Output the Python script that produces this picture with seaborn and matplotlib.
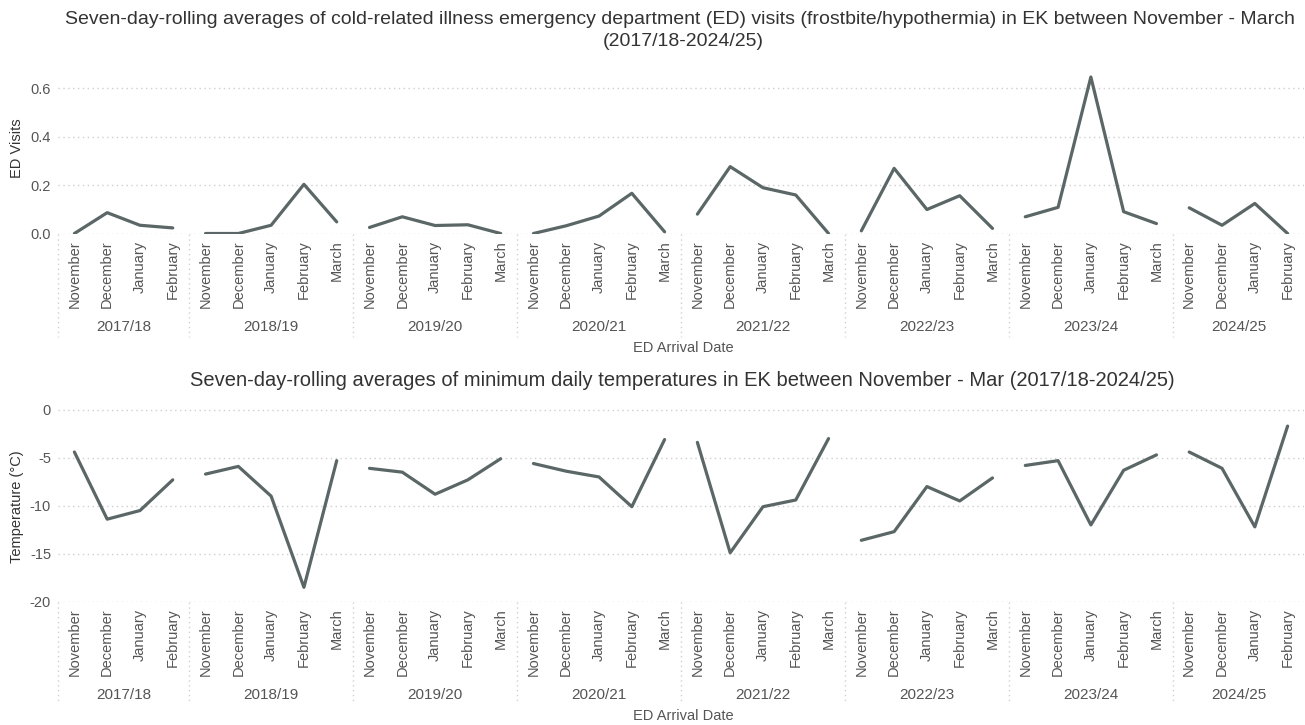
import numpy as np
import pandas as pd
import seaborn as sns
import matplotlib.pyplot as plt
from matplotlib.transforms import blended_transform_factory

# ---- data ---------------------------------------------------------------
seasons = ["2017/18", "2018/19", "2019/20", "2020/21",
           "2021/22", "2022/23", "2023/24", "2024/25"]
season_months = [
    ["November", "December", "January", "February"],
    ["November", "December", "January", "February", "March"],
    ["November", "December", "January", "February", "March"],
    ["November", "December", "January", "February", "March"],
    ["November", "December", "January", "February", "March"],
    ["November", "December", "January", "February", "March"],
    ["November", "December", "January", "February", "March"],
    ["November", "December", "January", "February"],
]

# seven-day rolling average of cold-related ED visits, per month and season
ed_visits = [
    0.000, 0.086, 0.034, 0.023,
    0.000, 0.000, 0.034, 0.203, 0.048,
    0.025, 0.069, 0.033, 0.036, 0.000,
    0.000, 0.032, 0.072, 0.166, 0.007,
    0.080, 0.276, 0.189, 0.159, 0.000,
    0.011, 0.269, 0.099, 0.156, 0.021,
    0.069, 0.108, 0.646, 0.090, 0.041,
    0.106, 0.034, 0.124, 0.000,
]

# seven-day rolling average of minimum daily temperature (°C)
min_temp = [
    -4.4, -11.4, -10.5, -7.3,
    -6.7, -5.9, -9.0, -18.5, -5.3,
    -6.1, -6.5, -8.8, -7.3, -5.1,
    -5.6, -6.4, -7.0, -10.1, -3.1,
    -3.4, -14.9, -10.1, -9.4, -3.0,
    -13.6, -12.7, -8.0, -9.5, -7.1,
    -5.8, -5.3, -12.0, -6.3, -4.7,
    -4.4, -6.1, -12.2, -1.7,
]

rows = []
pos = 0
for s, months in zip(seasons, season_months):
    for m in months:
        rows.append({"season": s, "month": m, "pos": pos})
        pos += 1
df = pd.DataFrame(rows)
df["visits"] = ed_visits
df["temp"] = min_temp
n_pos = len(df)

# ---- style --------------------------------------------------------------
sns.set_theme(style="white")
plt.rcParams["font.family"] = ["Liberation Sans", "DejaVu Sans"]

LINE = "#5b6667"
TXT = "#555555"
TITLE = "#333333"
GRID = "#cfcfcf"

W, H = 1305, 725
fig = plt.figure(figsize=(W / 100, H / 100), dpi=100)
fig.patch.set_facecolor("white")


def px_axes(left, top, right, bottom):
    return fig.add_axes([left / W, 1 - bottom / H, (right - left) / W, (bottom - top) / H])


def season_bounds():
    edges = [-0.5]
    for months in season_months:
        edges.append(edges[-1] + len(months))
    return edges


def style_panel(ax, sep_bottom_px, season_y_px, xlabel_y_px, yticks, ytick_fmt,
                ylabel, ylabel_y_px):
    ax.set_xlim(-0.5, n_pos - 0.5)
    ax.set_xticks(df["pos"])
    ax.set_xticklabels(df["month"], rotation=90, fontsize=10.5, color=TXT,
                       va="top", ha="center")
    ax.tick_params(axis="x", length=0, pad=5)
    ax.set_yticks(yticks)
    ax.set_yticklabels([ytick_fmt(v) for v in yticks], fontsize=10.5, color=TXT)
    ax.tick_params(axis="y", length=0, pad=5)
    for sp in ax.spines.values():
        sp.set_visible(False)
    ax.grid(False)
    for v in yticks:
        ax.axhline(v, color=GRID, lw=1.0, ls=(0, (1, 2.5)), zorder=0)
    ax.set_xlabel("")
    ax.set_ylabel("")
    fig.text(17 / W, 1 - ylabel_y_px / H, ylabel, rotation=90, ha="center",
             va="center", fontsize=10.5, color=TITLE)

    # season separators and labels below the month names
    trans = blended_transform_factory(ax.transData, fig.transFigure)
    ybot_ax = ax.get_position().y0
    edges = season_bounds()
    for e in edges[:-1]:
        ax.plot([e, e], [ybot_ax, 1 - sep_bottom_px / H], transform=trans,
                color=GRID, lw=1.0, ls=(0, (1, 2.5)), clip_on=False)
    for i, s in enumerate(seasons):
        cx = (edges[i] + edges[i + 1]) / 2
        ax.text(cx, 1 - season_y_px / H, s, transform=trans, ha="center",
                va="center", fontsize=11, color=TXT)
    fig.text(683 / W, 1 - xlabel_y_px / H, "ED Arrival Date",
             ha="center", va="center", fontsize=10.5, color=TXT)


# ---- top panel: ED visits ----------------------------------------------
ax1 = px_axes(58, 70, 1304, 233.5)
sns.lineplot(data=df, x="pos", y="visits", units="season", estimator=None,
             color=LINE, lw=2.3, ax=ax1, legend=False)
ax1.set_ylim(0, 0.675)
style_panel(ax1, 337, 327, 348, [0.0, 0.2, 0.4, 0.6],
            lambda v: f"{v:.1f}", "ED Visits", 148)

fig.text(680 / W, 1 - 20 / H,
         "Seven-day-rolling averages of cold-related illness emergency department (ED) "
         "visits (frostbite/hypothermia) in EK between November - March",
         ha="center", va="center", fontsize=14, color=TITLE)
fig.text(683 / W, 1 - 41 / H, "(2017/18-2024/25)",
         ha="center", va="center", fontsize=14, color=TITLE)

# ---- bottom panel: minimum temperature --------------------------------
ax2 = px_axes(58, 405, 1304, 601.7)
sns.lineplot(data=df, x="pos", y="temp", units="season", estimator=None,
             color=LINE, lw=2.3, ax=ax2, legend=False)
ax2.set_ylim(-20, 0.5)
style_panel(ax2, 704, 695, 716, [0, -5, -10, -15, -20],
            lambda v: f"{v:d}", "Temperature (°C)", 507)

fig.text(682 / W, 1 - 381 / H,
         "Seven-day-rolling averages of minimum daily temperatures in EK between "
         "November - Mar (2017/18-2024/25)",
         ha="center", va="center", fontsize=14.5, color=TITLE)

fig.savefig("out.png", dpi=100, facecolor="white")
